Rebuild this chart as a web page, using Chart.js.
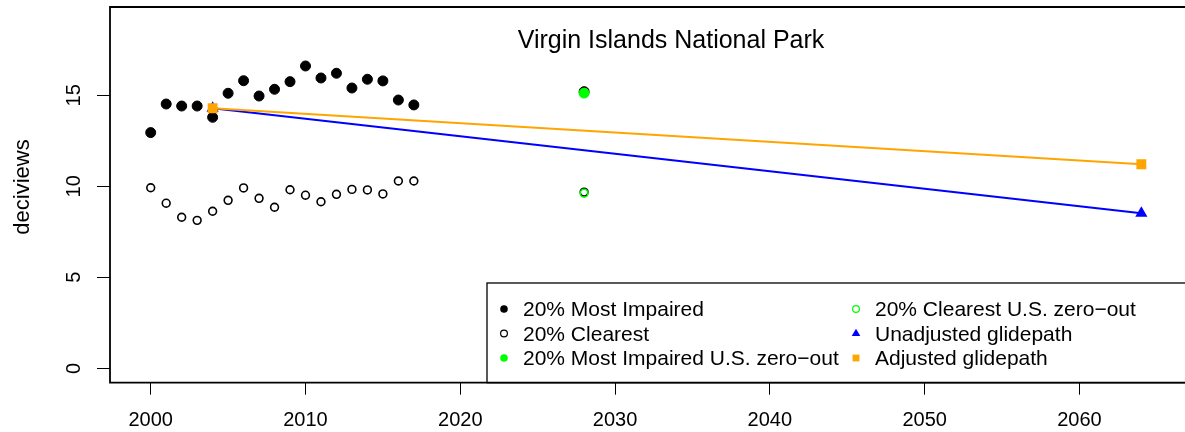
<!DOCTYPE html>
<html>
<head>
<meta charset="utf-8">
<title>Virgin Islands National Park</title>
<script src="https://cdn.jsdelivr.net/npm/chart.js@4/dist/chart.umd.min.js"></script>
<style>
  body { margin: 0; background: #fff; }
  #wrap { width: 1185px; height: 432px; }
</style>
</head>
<body>
<div id="wrap"><canvas id="visChart" width="1185" height="432"></canvas></div>
<script>
// observed years (2028 = projected zero-out year, drawn under the green markers)
const years = [2000, 2001, 2002, 2003, 2004, 2005, 2006, 2007, 2008, 2009,
               2010, 2011, 2012, 2013, 2014, 2015, 2016, 2017, 2028];
const mostImpaired = [12.95, 14.52, 14.41, 14.41, 13.79, 15.11, 15.80, 14.96, 15.33, 15.75,
                      16.61, 15.95, 16.21, 15.40, 15.88, 15.79, 14.74, 14.47, 15.20];
const clearest = [9.92, 9.07, 8.30, 8.13, 8.63, 9.23, 9.91, 9.34, 8.85, 9.81,
                  9.51, 9.15, 9.56, 9.83, 9.80, 9.58, 10.29, 10.29, 9.68];

const zeroOutYears = [2028];
const mostImpairedZeroOut = [15.12];
const clearestZeroOut = [9.62];

const glideYears = [2004, 2064];
const unadjustedGlide = [14.29, 8.52];
const adjustedGlide = [14.29, 11.21];

const xTicks = [2000, 2010, 2020, 2030, 2040, 2050, 2060];
const yTicks = [0, 5, 10, 15];

const FONT = '"Liberation Sans", Arial, Helvetica, sans-serif';

function pairs(xs, ys) {
    return xs.map((x, i) => ({x: x, y: ys[i]}));
}

// box round the plot (no right edge, it is cut off in the original), title, y label
const framePlugin = {
    id: 'frame',
    afterDraw(chart) {
        const {ctx, chartArea: a} = chart;
        ctx.save();
        ctx.strokeStyle = '#000';
        ctx.lineWidth = 1.8;
        ctx.beginPath();
        ctx.moveTo(chart.width + 2, a.top);
        ctx.lineTo(a.left, a.top);
        ctx.lineTo(a.left, a.bottom);
        ctx.lineTo(chart.width + 2, a.bottom);
        ctx.stroke();

        ctx.fillStyle = '#000';
        ctx.font = '25px ' + FONT;
        ctx.textAlign = 'center';
        ctx.textBaseline = 'alphabetic';
        ctx.fillText('Virgin Islands National Park', 671, 48);

        ctx.translate(23, 187);
        ctx.rotate(-Math.PI / 2);
        ctx.font = '22px ' + FONT;
        ctx.textBaseline = 'middle';
        ctx.fillText('deciviews', 0, 0);
        ctx.restore();
    }
};

// R style legend box in the lower right
const legendPlugin = {
    id: 'rLegend',
    afterDraw(chart) {
        const {ctx, chartArea: a} = chart;
        const left = 487, top = 283;
        const cols = [504, 856];
        const rows = [309, 333.5, 358];
        ctx.save();
        ctx.strokeStyle = '#000';
        ctx.lineWidth = 1.3;
        ctx.strokeRect(left, top, chart.width + 10 - left, a.bottom - top);

        ctx.font = '21px ' + FONT;
        ctx.textAlign = 'left';
        ctx.textBaseline = 'alphabetic';
        chart.data.datasets.forEach((ds, i) => {
            const cx = cols[Math.floor(i / 3)];
            const cy = rows[i % 3];
            ctx.fillStyle = ds.pointBackgroundColor;
            ctx.strokeStyle = ds.pointBorderColor;
            ctx.lineWidth = 1.2;
            ctx.beginPath();
            if (ds.pointStyle === 'triangle') {
                ctx.moveTo(cx, cy - 4.8);
                ctx.lineTo(cx + 4.3, cy + 2.6);
                ctx.lineTo(cx - 4.3, cy + 2.6);
                ctx.closePath();
                ctx.fill();
            } else if (ds.pointStyle === 'rect') {
                ctx.rect(cx - 3.4, cy - 3.4, 6.8, 6.8);
                ctx.fill();
            } else if (ds.hollow) {
                ctx.arc(cx, cy, 3.4, 0, Math.PI * 2);
                ctx.stroke();
            } else {
                ctx.arc(cx, cy, 3.8, 0, Math.PI * 2);
                ctx.fill();
            }
            ctx.fillStyle = '#000';
            ctx.fillText(ds.label, cx + 19, cy + 7);
        });
        ctx.restore();
    }
};

const ctx = document.getElementById('visChart').getContext('2d');
new Chart(ctx, {
    type: 'scatter',
    data: {
        datasets: [
            {
                label: '20% Most Impaired',
                data: pairs(years, mostImpaired),
                pointStyle: 'circle',
                pointRadius: 5,
                pointBackgroundColor: '#000',
                pointBorderColor: '#000',
                pointBorderWidth: 1,
                order: 5
            },
            {
                label: '20% Clearest',
                hollow: true,
                data: pairs(years, clearest),
                pointStyle: 'circle',
                pointRadius: 3.9,
                pointBackgroundColor: 'rgba(0,0,0,0)',
                pointBorderColor: '#000',
                pointBorderWidth: 1.6,
                order: 4
            },
            {
                label: '20% Most Impaired U.S. zero\u2212out',
                data: pairs(zeroOutYears, mostImpairedZeroOut),
                pointStyle: 'circle',
                pointRadius: 5,
                pointBackgroundColor: '#00ff00',
                pointBorderColor: '#00ff00',
                pointBorderWidth: 1,
                order: 3
            },
            {
                label: '20% Clearest U.S. zero\u2212out',
                hollow: true,
                data: pairs(zeroOutYears, clearestZeroOut),
                pointStyle: 'circle',
                pointRadius: 3.9,
                pointBackgroundColor: 'rgba(0,0,0,0)',
                pointBorderColor: '#00ff00',
                pointBorderWidth: 1.6,
                order: 2
            },
            {
                label: 'Unadjusted glidepath',
                data: pairs(glideYears, unadjustedGlide),
                showLine: true,
                borderColor: '#0000ff',
                borderWidth: 2,
                pointStyle: 'triangle',
                pointRadius: 7,
                pointBackgroundColor: '#0000ff',
                pointBorderColor: '#0000ff',
                pointBorderWidth: 0,
                order: 1
            },
            {
                label: 'Adjusted glidepath',
                data: pairs(glideYears, adjustedGlide),
                showLine: true,
                borderColor: '#ffa500',
                borderWidth: 2,
                pointStyle: 'rect',
                pointRadius: 7,
                pointBackgroundColor: '#ffa500',
                pointBorderColor: '#ffa500',
                pointBorderWidth: 0,
                order: 0
            }
        ]
    },
    options: {
        responsive: false,
        animation: false,
        layout: {autoPadding: false, padding: {top: 7, right: 0, left: 0, bottom: 0}},
        plugins: {
            legend: {display: false},
            tooltip: {enabled: false},
            title: {display: false}
        },
        scales: {
            x: {
                type: 'linear',
                min: 1997.37,
                max: 2066.82,
                afterBuildTicks: scale => { scale.ticks = xTicks.map(v => ({value: v})); },
                afterFit: scale => {
                    scale.height = 49.3;
                    scale.paddingLeft = 0;
                    scale.paddingRight = 0;
                },
                border: {display: false},
                grid: {drawOnChartArea: false, drawTicks: true, tickLength: 12, color: '#000', tickWidth: 1},
                ticks: {
                    color: '#000',
                    font: {size: 20, family: FONT},
                    padding: 14,
                    autoSkip: false,
                    maxRotation: 0,
                    callback: v => String(v)
                }
            },
            y: {
                type: 'linear',
                min: -0.79,
                max: 19.85,
                afterBuildTicks: scale => { scale.ticks = yTicks.map(v => ({value: v})); },
                afterFit: scale => {
                    scale.width = 110;
                    scale.paddingTop = 0;
                    scale.paddingBottom = 0;
                },
                border: {display: false},
                grid: {drawOnChartArea: false, drawTicks: true, tickLength: 13, color: '#000', tickWidth: 1},
                ticks: {
                    color: '#000',
                    font: {size: 20, family: FONT},
                    padding: 11,
                    minRotation: 90,
                    maxRotation: 90,
                    crossAlign: 'center',
                    autoSkip: false,
                    callback: v => String(v)
                }
            }
        }
    },
    plugins: [framePlugin, legendPlugin]
});
</script>
</body>
</html>
